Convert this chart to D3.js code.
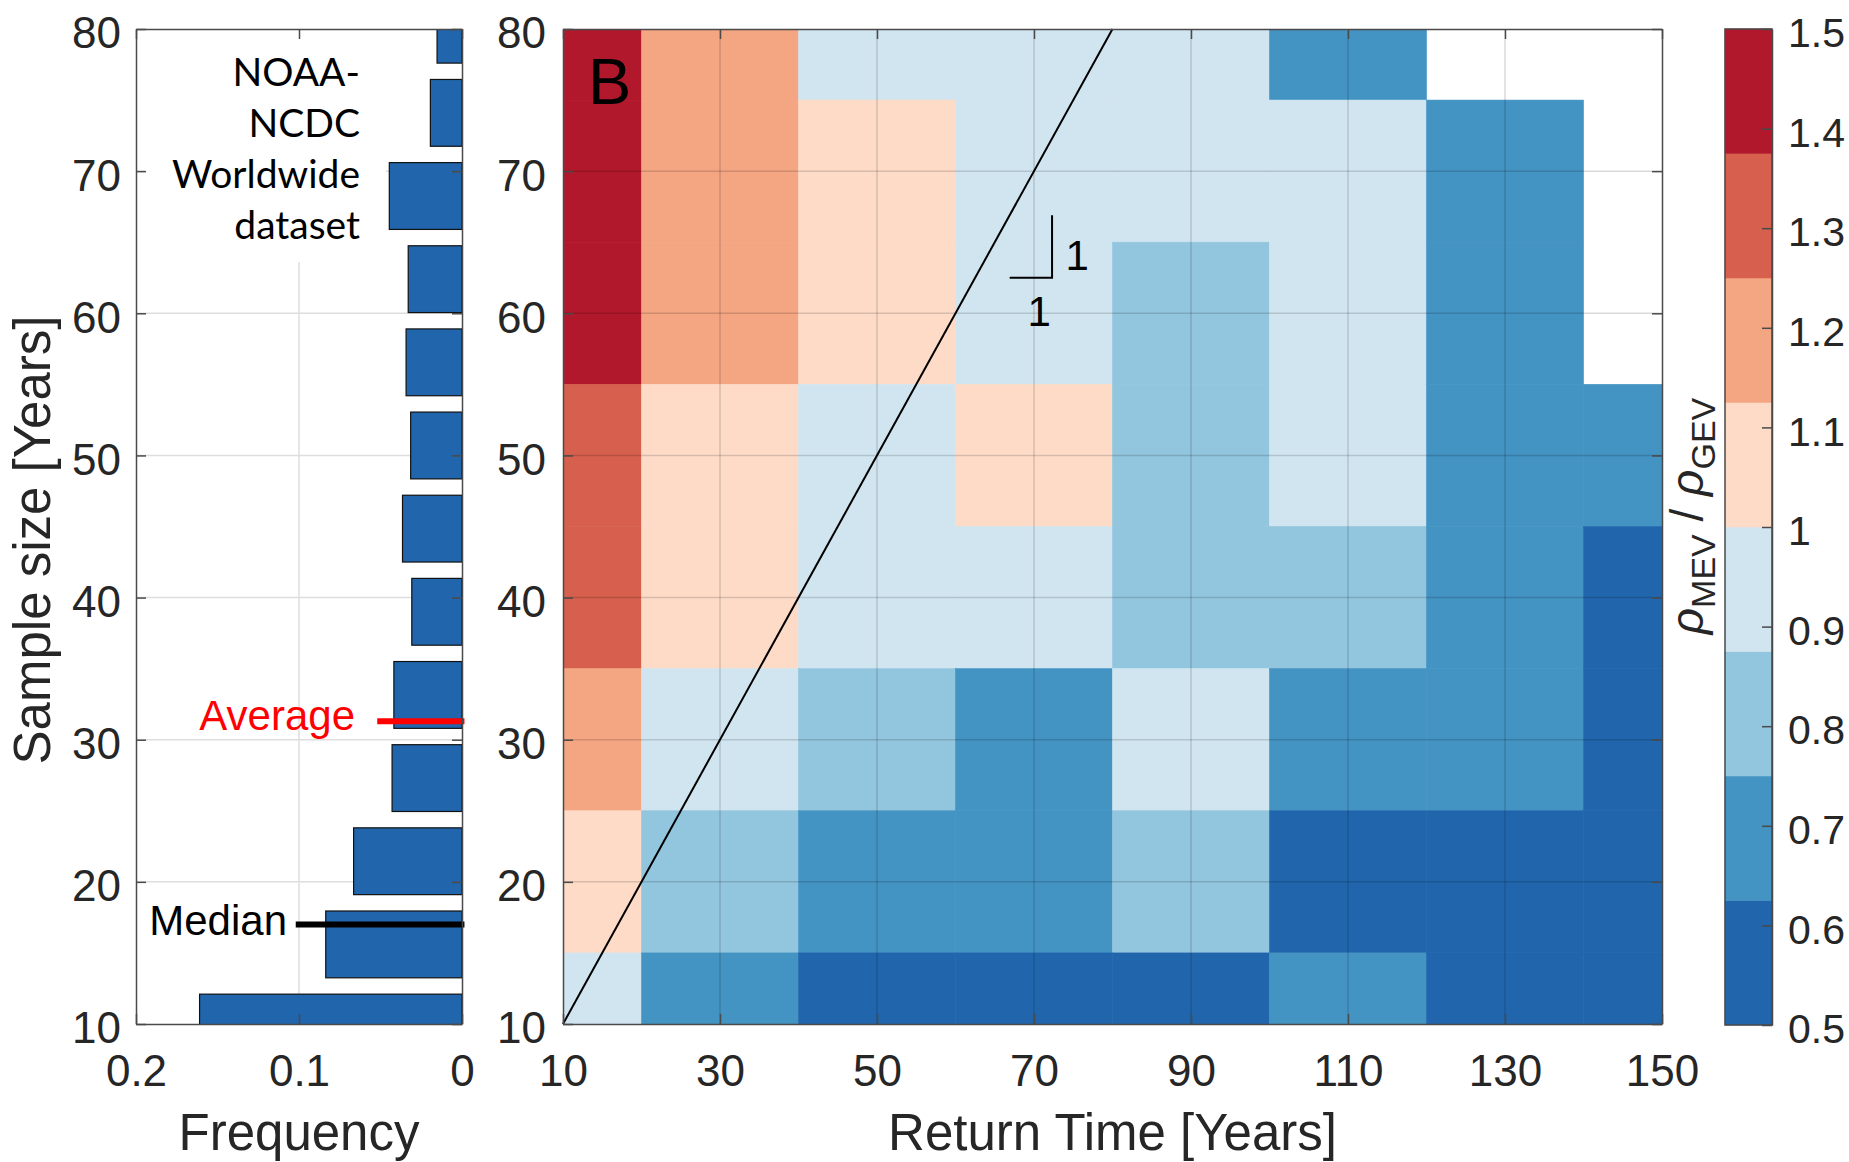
<!DOCTYPE html>
<html>
<head>
<meta charset="utf-8">
<script src="https://cdn.jsdelivr.net/npm/d3@7"></script>
<style>
  body { margin: 0; background: #fff; }
  svg text { font-family: "Liberation Sans", Arial, sans-serif; }
</style>
</head>
<body>
<svg id="chart"></svg>
<script>
// ---- data ----
const returnTimes = [10, 30, 50, 70, 90, 110, 130, 150];   // cell centres, x
const sampleSizes = [80, 70, 60, 50, 40, 30, 20, 10];      // cell centres, y (row order below)
// rho_MEV / rho_GEV, one row per sample size (null = no data)
const ratioRows = [
  [1.44, 1.19, 0.94, 0.94, 0.94, 0.69, null, null],
  [1.44, 1.19, 1.06, 0.94, 0.94, 0.94, 0.69, null],
  [1.44, 1.19, 1.06, 0.94, 0.81, 0.94, 0.69, null],
  [1.31, 1.06, 0.94, 1.06, 0.81, 0.94, 0.69, 0.69],
  [1.31, 1.06, 0.94, 0.94, 0.81, 0.81, 0.69, 0.56],
  [1.19, 0.94, 0.81, 0.69, 0.94, 0.69, 0.69, 0.56],
  [1.06, 0.81, 0.69, 0.69, 0.81, 0.56, 0.56, 0.56],
  [0.94, 0.69, 0.56, 0.56, 0.56, 0.69, 0.56, 0.56]
];

// histogram of record lengths
const histCenters = [9.75, 15.6, 21.45, 27.3, 33.15, 39.0, 44.85, 50.7, 56.55, 62.4, 68.25, 74.1, 79.95];
const histFreq    = [0.161, 0.0836, 0.0665, 0.0429, 0.0418, 0.0308, 0.0365, 0.0315, 0.0343, 0.033, 0.0446, 0.0194, 0.0153];
const histBarWidth = 4.7;

const averageSize = 31.3;
const medianSize = 17;

const freqTicks = [0.2, 0.1, 0];
const sizeTicks = [10, 20, 30, 40, 50, 60, 70, 80];
const timeTicks = [10, 30, 50, 70, 90, 110, 130, 150];
const ratioTicks = [0.5, 0.6, 0.7, 0.8, 0.9, 1, 1.1, 1.2, 1.3, 1.4, 1.5];

// ---- layout ----
const W = 1849, H = 1162;
const plotTop = 29, plotBottom = 1024;
const histL = 136, histR = 462;
const mapL = 563, mapR = 1662;
const cbL = 1725, cbR = 1772;

const svg = d3.select("#chart").attr("width", W).attr("height", H);
svg.append("rect").attr("width", W).attr("height", H).attr("fill", "#fff");

const fx = d3.scaleLinear().domain([0.2, 0]).range([histL, histR]);
const sy = d3.scaleLinear().domain([10, 80]).range([plotBottom, plotTop]);
const tx = d3.scaleLinear().domain([10, 150]).range([mapL, mapR]);
const cy = d3.scaleLinear().domain([0.5, 1.5]).range([plotBottom + 1, plotTop]);

const colors = d3.schemeRdBu[8].slice().reverse();
const color = d3.scaleQuantize().domain([0.5, 1.5]).range(colors);

const axisColor = "#4a4a4a";
function styleAxis(g, fs, dy) {
  g.attr("font-size", fs)
   .attr("font-family", "'Liberation Sans', Arial, sans-serif")
   .attr("color", "#262626");
  g.selectAll(".domain, .tick line").attr("stroke", axisColor).attr("stroke-width", 1.5);
  if (dy) g.selectAll("text").attr("dy", dy);
}

const defs = svg.append("defs");
defs.append("clipPath").attr("id", "clipHist").append("rect")
  .attr("x", histL).attr("y", plotTop).attr("width", histR - histL).attr("height", plotBottom - plotTop);
defs.append("clipPath").attr("id", "clipMap").append("rect")
  .attr("x", mapL).attr("y", plotTop).attr("width", mapR - mapL).attr("height", plotBottom - plotTop);

// ================= left panel: histogram =================
const hist = svg.append("g");

hist.append("g").selectAll("line")
  .data(sizeTicks.filter(t => t > 10 && t < 80))
  .join("line")
  .attr("x1", histL).attr("x2", histR)
  .attr("y1", d => sy(d)).attr("y2", d => sy(d))
  .attr("stroke", "#dedede").attr("stroke-width", 1.5);
hist.append("line")
  .attr("x1", fx(0.1)).attr("x2", fx(0.1))
  .attr("y1", plotTop).attr("y2", plotBottom)
  .attr("stroke", "#dedede").attr("stroke-width", 1.5);

// text box
hist.append("rect").attr("x", 146).attr("y", 31).attr("width", 240).attr("height", 231).attr("fill", "#fff");
const noteLines = ["NOAA-", "NCDC", "Worldwide", "dataset"];
hist.append("g").selectAll("text")
  .data(noteLines)
  .join("text")
  .attr("x", 360)
  .attr("y", (d, i) => 86 + i * 51)
  .attr("text-anchor", "end")
  .style("font-family", "Lato, 'Open Sans', sans-serif")
  .attr("font-size", 39)
  .attr("fill", "#000")
  .text(d => d);

hist.append("g").attr("clip-path", "url(#clipHist)")
  .selectAll("rect")
  .data(histCenters.map((c, i) => ({ c, f: histFreq[i] })))
  .join("rect")
  .attr("x", d => fx(d.f))
  .attr("width", d => fx(0) - fx(d.f))
  .attr("y", d => sy(d.c + histBarWidth / 2))
  .attr("height", d => sy(d.c - histBarWidth / 2) - sy(d.c + histBarWidth / 2))
  .attr("fill", "#2166ac")
  .attr("stroke", "#111")
  .attr("stroke-width", 1.2);

// average / median markers
hist.append("line")
  .attr("x1", fx(0.052)).attr("x2", fx(-0.0015))
  .attr("y1", sy(averageSize)).attr("y2", sy(averageSize))
  .attr("stroke", "#f00").attr("stroke-width", 6);
hist.append("text")
  .attr("x", 355).attr("y", sy(averageSize) + 9)
  .attr("text-anchor", "end").attr("font-size", 42).attr("fill", "#f00")
  .text("Average");
hist.append("line")
  .attr("x1", fx(0.102)).attr("x2", fx(-0.0015))
  .attr("y1", sy(medianSize)).attr("y2", sy(medianSize))
  .attr("stroke", "#000").attr("stroke-width", 6);
hist.append("text")
  .attr("x", 287).attr("y", sy(medianSize) + 10)
  .attr("text-anchor", "end").attr("font-size", 42).attr("fill", "#000")
  .text("Median");

// axes
hist.append("g").attr("transform", `translate(${histL},0)`)
  .call(d3.axisLeft(sy).tickValues(sizeTicks).tickSize(-10).tickSizeOuter(0).tickPadding(15))
  .call(g => styleAxis(g, 44, "0.43em"));
hist.append("g").attr("transform", `translate(${histR},0)`)
  .call(d3.axisRight(sy).tickValues(sizeTicks).tickSize(-10).tickSizeOuter(0).tickFormat(""))
  .call(g => styleAxis(g, 44));
hist.append("g").attr("transform", `translate(0,${plotBottom})`)
  .call(d3.axisBottom(fx).tickValues(freqTicks).tickSize(-10).tickSizeOuter(0).tickPadding(31).tickFormat(d => String(d)))
  .call(g => styleAxis(g, 44));
hist.append("g").attr("transform", `translate(0,${plotTop})`)
  .call(d3.axisTop(fx).tickValues(freqTicks).tickSize(-10).tickSizeOuter(0).tickFormat(""))
  .call(g => styleAxis(g, 44));

hist.append("text")
  .attr("x", (histL + histR) / 2).attr("y", 1150)
  .attr("text-anchor", "middle").attr("font-size", 51).attr("fill", "#262626")
  .text("Frequency");
hist.append("text")
  .attr("transform", "translate(50,540) rotate(-90)")
  .attr("text-anchor", "middle").attr("font-size", 51).attr("fill", "#262626")
  .text("Sample size [Years]");

// ================= right panel: heat map =================
const map = svg.append("g");
const cells = [];
ratioRows.forEach((row, r) => row.forEach((v, c) => {
  if (v !== null) cells.push({ t: returnTimes[c], s: sampleSizes[r], v });
}));

map.append("g").attr("clip-path", "url(#clipMap)")
  .selectAll("rect")
  .data(cells)
  .join("rect")
  .attr("x", d => tx(d.t - 10))
  .attr("width", d => tx(d.t + 10) - tx(d.t - 10))
  .attr("y", d => sy(d.s + 5))
  .attr("height", d => sy(d.s - 5) - sy(d.s + 5))
  .attr("fill", d => color(d.v))
  .attr("stroke", d => color(d.v))
  .attr("stroke-width", 0.6);

// grid on top of the cells
map.append("g").selectAll("line")
  .data(timeTicks.filter(t => t > 10 && t < 150))
  .join("line")
  .attr("x1", d => tx(d)).attr("x2", d => tx(d))
  .attr("y1", plotTop).attr("y2", plotBottom)
  .attr("stroke", "#000").attr("stroke-opacity", 0.15).attr("stroke-width", 1.5);
map.append("g").selectAll("line")
  .data(sizeTicks.filter(t => t > 10 && t < 80))
  .join("line")
  .attr("x1", mapL).attr("x2", mapR)
  .attr("y1", d => sy(d)).attr("y2", d => sy(d))
  .attr("stroke", "#000").attr("stroke-opacity", 0.15).attr("stroke-width", 1.5);

// 1:1 line
map.append("line")
  .attr("x1", tx(10)).attr("y1", sy(10))
  .attr("x2", tx(80)).attr("y2", sy(80))
  .attr("stroke", "#000").attr("stroke-width", 2);

// slope marker
map.append("path")
  .attr("d", `M${tx(66.9)},${sy(62.5)}H${tx(72.3)}V${sy(66.9)}`)
  .attr("fill", "none").attr("stroke", "#000").attr("stroke-width", 2);
map.append("text")
  .attr("x", tx(72.3) + 25).attr("y", sy(62.5) - 8)
  .attr("text-anchor", "middle").attr("font-size", 42).attr("fill", "#000")
  .text("1");
map.append("text")
  .attr("x", tx(72.3) - 13).attr("y", sy(62.5) + 48)
  .attr("text-anchor", "middle").attr("font-size", 42).attr("fill", "#000")
  .text("1");

map.append("text")
  .attr("x", 588).attr("y", 104)
  .attr("font-size", 65).attr("fill", "#000")
  .text("B");

map.append("g").attr("transform", `translate(${mapL},0)`)
  .call(d3.axisLeft(sy).tickValues(sizeTicks).tickSize(-10).tickSizeOuter(0).tickPadding(17))
  .call(g => styleAxis(g, 44, "0.43em"));
map.append("g").attr("transform", `translate(${mapR},0)`)
  .call(d3.axisRight(sy).tickValues(sizeTicks).tickSize(-10).tickSizeOuter(0).tickFormat(""))
  .call(g => styleAxis(g, 44));
map.append("g").attr("transform", `translate(0,${plotBottom})`)
  .call(d3.axisBottom(tx).tickValues(timeTicks).tickSize(-10).tickSizeOuter(0).tickPadding(31).tickFormat(d => String(d)))
  .call(g => styleAxis(g, 44));
map.append("g").attr("transform", `translate(0,${plotTop})`)
  .call(d3.axisTop(tx).tickValues(timeTicks).tickSize(-10).tickSizeOuter(0).tickFormat(""))
  .call(g => styleAxis(g, 44));

map.append("text")
  .attr("x", (mapL + mapR) / 2).attr("y", 1150)
  .attr("text-anchor", "middle").attr("font-size", 51).attr("fill", "#262626")
  .text("Return Time [Years]");

// ================= colour bar =================
const cbar = svg.append("g");
const bandEdges = [0.5, ...color.thresholds(), 1.5];
cbar.selectAll("rect.band")
  .data(colors)
  .join("rect")
  .attr("class", "band")
  .attr("x", cbL).attr("width", cbR - cbL)
  .attr("y", (d, i) => cy(bandEdges[i + 1]))
  .attr("height", (d, i) => cy(bandEdges[i]) - cy(bandEdges[i + 1]))
  .attr("fill", d => d)
  .attr("stroke", d => d).attr("stroke-width", 0.5);
cbar.append("rect")
  .attr("x", cbL).attr("y", cy(1.5)).attr("width", cbR - cbL).attr("height", cy(0.5) - cy(1.5))
  .attr("fill", "none").attr("stroke", axisColor).attr("stroke-width", 1.5);
cbar.append("g").attr("transform", `translate(${cbR},0)`)
  .call(d3.axisRight(cy).tickValues(ratioTicks).tickSize(-10).tickSizeOuter(0).tickPadding(16).tickFormat(d => String(d)))
  .call(g => styleAxis(g, 41, "0.43em"));

const cbLabel = cbar.append("text")
  .attr("transform", "translate(1703,516) rotate(-90)")
  .attr("text-anchor", "middle").attr("font-size", 46).attr("fill", "#262626");
cbLabel.append("tspan").attr("font-style", "italic").text("\u03c1");
cbLabel.append("tspan").attr("font-size", 34).attr("dy", 12).text("MEV");
cbLabel.append("tspan").attr("dy", -12).text(" / ");
cbLabel.append("tspan").attr("font-style", "italic").text("\u03c1");
cbLabel.append("tspan").attr("font-size", 34).attr("dy", 12).text("GEV");
</script>
</body>
</html>
